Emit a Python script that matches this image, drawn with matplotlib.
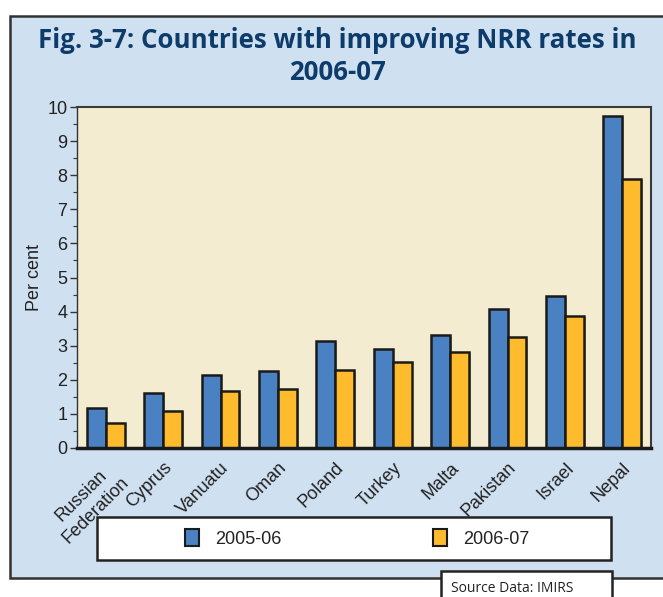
"""Fig. 3-7: countries with improving NRR rates, 2005-06 vs 2006-07."""
import numpy as np
import matplotlib

matplotlib.use("Agg")
import matplotlib.pyplot as plt
from matplotlib.patches import Patch, Rectangle
import matplotlib.patheffects as pe

countries = ["Russian\nFederation", "Cyprus", "Vanuatu", "Oman", "Poland",
             "Turkey", "Malta", "Pakistan", "Israel", "Nepal"]
rate_2005_06 = [1.18, 1.60, 2.15, 2.25, 3.14, 2.90, 3.30, 4.08, 4.45, 9.75]
rate_2006_07 = [0.74, 1.09, 1.67, 1.73, 2.28, 2.53, 2.82, 3.25, 3.88, 7.90]
series_labels = ["2005-06", "2006-07"]
y_ticks = list(range(0, 11))

BLUE = "#4a81c2"
YELLOW = "#fdbb2d"
PANEL = "#cfe0f1"
PLOT_BG = "#f3ecd0"
TITLE_COLOR = "#0d3b6a"
FS = 13

plt.rcParams["font.family"] = ["Liberation Sans", "DejaVu Sans"]

fig = plt.figure(figsize=(6.63, 5.97), dpi=100)
W, H = 663, 597


def fx(px):
    return px / W


def fy(py):
    return 1 - py / H


# light blue panel with dark frame, behind everything
fig.patches.append(Rectangle((fx(10), fy(578)), fx(680) - fx(10), fy(16) - fy(578),
                             transform=fig.transFigure, facecolor=PANEL,
                             edgecolor="#333333", linewidth=1.8, zorder=-10))

fig.text(fx(337), fy(40), "Fig. 3-7: Countries with improving NRR rates in",
         ha="center", va="center", fontsize=18.6, fontweight="bold",
         color=TITLE_COLOR, family=["Open Sans", "DejaVu Sans"])
fig.text(fx(337), fy(73), "2006-07", ha="center", va="center", fontsize=18.6,
         fontweight="bold", color=TITLE_COLOR, family=["Open Sans", "DejaVu Sans"])

ax = fig.add_axes([fx(77), fy(448), fx(651) - fx(77), fy(107) - fy(448)])
ax.set_facecolor(PLOT_BG)

x = np.arange(len(countries))
w = 0.33
shadow = [pe.SimplePatchShadow(offset=(1.2, -1.2), shadow_rgbFace="#888888", alpha=0.6),
          pe.Normal()]
b1 = ax.bar(x - w / 2, rate_2005_06, w, color=BLUE, edgecolor="#1a1a1a", linewidth=1.8)
b2 = ax.bar(x + w / 2, rate_2006_07, w, color=YELLOW, edgecolor="#1a1a1a", linewidth=1.8)
for b in list(b1) + list(b2):
    b.set_path_effects(shadow)

ax.set_xlim(-0.5, len(countries) - 0.5)
ax.set_ylim(0, 10)
ax.set_yticks(y_ticks)
ax.set_yticks(np.arange(0.5, 10, 1), minor=True)
ax.tick_params(axis="y", which="major", length=5, width=1, color="#333333",
               labelsize=FS, pad=2, labelcolor="#222222")
ax.tick_params(axis="y", which="minor", length=3, width=0.8, color="#333333")
ax.set_xticks(x)
ax.set_xticklabels(countries, rotation=45, ha="right", rotation_mode="anchor",
                   fontsize=FS, multialignment="center", color="#222222",
                   linespacing=1.3)
ax.tick_params(axis="x", length=0, pad=8)
ax.set_ylabel("Per cent", fontsize=FS, labelpad=3, color="#222222")

for side in ["top", "right"]:
    ax.spines[side].set_color("#3a3a3a")
    ax.spines[side].set_linewidth(1.5)
ax.spines["left"].set_color("#333333")
ax.spines["left"].set_linewidth(1.0)
ax.spines["bottom"].set_color("#1a1a1a")
ax.spines["bottom"].set_linewidth(2.5)

# legend box
fig.patches.append(Rectangle((fx(97), fy(560)), fx(611) - fx(97), fy(517) - fy(560),
                             transform=fig.transFigure, facecolor="white",
                             edgecolor="#222222", linewidth=1.8, zorder=1))
handles = [Patch(facecolor=BLUE, edgecolor="#1a1a1a", linewidth=1.5),
           Patch(facecolor=YELLOW, edgecolor="#1a1a1a", linewidth=1.5)]
fig.legend(handles, series_labels, loc="center left",
           bbox_to_anchor=(fx(169), fy(538.5)), ncol=2, frameon=False,
           fontsize=FS, handlelength=0.75, handleheight=1.0,
           handletextpad=0.9, columnspacing=8.4, labelcolor="#222222")

# source note
fig.patches.append(Rectangle((fx(441), fy(605)), fx(612) - fx(441), fy(571) - fy(605),
                             transform=fig.transFigure, facecolor="white",
                             edgecolor="#222222", linewidth=1.8, zorder=1))
fig.text(fx(451), fy(588), "Source Data: IMIRS", ha="left", va="center",
         fontsize=10, color="#222222", family=["Open Sans", "DejaVu Sans"])

fig.savefig("out.png", dpi=100)
